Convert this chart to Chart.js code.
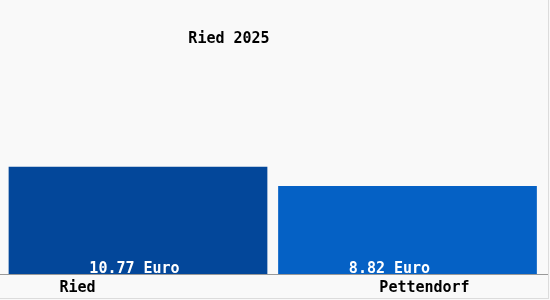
<!DOCTYPE html>
<html>
<head>
    <title>Ried 2025</title>
    <script src="https://cdn.jsdelivr.net/npm/chart.js"></script>
    <style>
        body {
            margin: 0;
            padding: 0;
            background-color: #f9f9f9;
        }

        .chart-box {
            width: 548px;
            height: 298px;
            border-right: 1px solid #dcdcdc;
            border-bottom: 1px solid #dcdcdc;
            background-color: #f9f9f9;
        }
    </style>
</head>
<body>
    <div class="chart-box">
        <canvas id="priceChart" width="548" height="298"></canvas>
    </div>

    <script>
        const places = ['Ried', 'Pettendorf'];
        const prices = [10.77, 8.82];
        const priceLabels = ['10.77 Euro', '8.82 Euro'];
        const chartTitle = 'Ried 2025';

        const FONT = 'bold 15px "DejaVu Sans Mono", monospace';

        // value text, category names, title and base line
        const drawText = {
            id: 'drawText',
            afterDatasetsDraw(chart) {
                const ctx = chart.ctx;
                const area = chart.chartArea;
                const bars = chart.getDatasetMeta(0).data;
                const valueShift = [-3.5, -18];
                const nameShift = [-60.5, 17];

                ctx.save();
                ctx.strokeStyle = '#999999';
                ctx.lineWidth = 1;
                ctx.beginPath();
                ctx.moveTo(0, area.bottom + 0.5);
                ctx.lineTo(548, area.bottom + 0.5);
                ctx.stroke();

                ctx.font = FONT;
                ctx.textAlign = 'center';
                ctx.textBaseline = 'alphabetic';
                bars.forEach((bar, i) => {
                    ctx.fillStyle = '#ffffff';
                    ctx.fillText(priceLabels[i], bar.x + valueShift[i], area.bottom - 1);
                    ctx.fillStyle = '#000000';
                    ctx.fillText(places[i], bar.x + nameShift[i], area.bottom + 18);
                });

                ctx.fillStyle = '#000000';
                ctx.fillText(chartTitle, 229, 43);
                ctx.restore();
            }
        };

        new Chart(document.getElementById('priceChart'), {
            type: 'bar',
            data: {
                labels: places,
                datasets: [{
                    data: prices,
                    backgroundColor: ['#03479a', '#0561c5'],
                    borderWidth: 0,
                    barPercentage: 0.96,
                    categoryPercentage: 1
                }]
            },
            options: {
                responsive: false,
                animation: false,
                layout: { padding: { left: 3.25, right: 5.75, top: 0, bottom: 24 } },
                plugins: {
                    legend: { display: false },
                    tooltip: { enabled: false }
                },
                scales: {
                    x: { display: false },
                    y: { display: false, min: 0, max: 27.5 }
                }
            },
            plugins: [drawText]
        });
    </script>
</body>
</html>
